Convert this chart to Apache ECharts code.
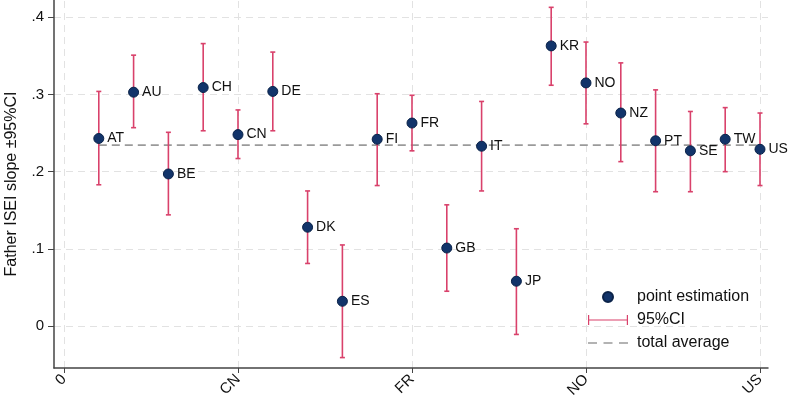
<!DOCTYPE html>
<html>
<head>
<meta charset="utf-8">
<script src="https://cdn.jsdelivr.net/npm/echarts@6/dist/echarts.min.js"></script>
<style>
  html, body { margin: 0; padding: 0; background: #fff; }
  #chart { width: 788px; height: 402px; }
</style>
</head>
<body>
<div id="chart"></div>
<script>
// countries, in order along x (1..20)
var countries = ['AT','AU','BE','CH','CN','DE','DK','ES','FI','FR','GB','IT','JP','KR','NO','NZ','PT','SE','TW','US'];
var estimate = [0.243,0.303,0.197,0.309,0.248,0.304,0.128,0.032,0.242,0.263,0.101,0.233,0.058,0.363,0.315,0.276,0.240,0.227,0.242,0.229];
var ciLow    = [0.183,0.257,0.144,0.253,0.217,0.253,0.081,-0.041,0.182,0.227,0.045,0.175,-0.011,0.312,0.262,0.213,0.174,0.174,0.200,0.182];
var ciHigh   = [0.304,0.351,0.251,0.366,0.280,0.355,0.175,0.105,0.301,0.299,0.157,0.291,0.126,0.413,0.368,0.341,0.306,0.278,0.283,0.276];
var totalAverage = 0.2344;

var xTicks = [0, 5, 10, 15, 20];
var xTickLabels = ['0', 'CN', 'FR', 'NO', 'US'];
var yTicks = [0, 0.1, 0.2, 0.3, 0.4];
var yTickLabels = ['0', '.1', '.2', '.3', '.4'];

var FONT = 'Liberation Sans';
var CI_COLOR = '#d9416b';
var PT_COLOR = '#12346a';
var AVG_COLOR = '#9a9a9a';

var pointData = [], ciData = [];
for (var i = 0; i < countries.length; i++) {
    pointData.push([i + 1, estimate[i], countries[i]]);
    ciData.push([i + 1, ciLow[i], ciHigh[i]]);
}

var gridLines = [];
xTicks.forEach(function (v) { gridLines.push({ xAxis: v }); });
yTicks.forEach(function (v) { gridLines.push({ yAxis: v }); });

var chart = echarts.init(document.getElementById('chart'));
var option = {
    animation: false,
    backgroundColor: '#fff',
    textStyle: { fontFamily: FONT },
    grid: { left: 54, right: 20, top: 0, bottom: 34, containLabel: false, outerBoundsMode: 'none' },
    xAxis: {
        type: 'value',
        min: -0.287,
        max: 20.23,
        axisLine: { onZero: false, lineStyle: { color: '#444', width: 1.5 } },
        axisTick: { customValues: xTicks, length: 5, lineStyle: { color: '#444' } },
        axisLabel: {
            customValues: xTicks,
            rotate: 45,
            fontSize: 15,
            color: '#111',
            margin: 9,
            formatter: function (v) {
                var k = xTicks.indexOf(Math.round(v));
                return k >= 0 ? xTickLabels[k] : '';
            }
        },
        splitLine: { show: false }
    },
    yAxis: {
        type: 'value',
        min: -0.0545,
        max: 0.4225,
        name: 'Father ISEI slope \u00b195%CI',
        nameLocation: 'middle',
        nameGap: 34,
        nameTextStyle: { fontSize: 16, color: '#111' },
        axisLine: { show: true, onZero: false, lineStyle: { color: '#444', width: 1.5 } },
        axisTick: { show: true, customValues: yTicks, length: 6, lineStyle: { color: '#444' } },
        axisLabel: {
            customValues: yTicks,
            fontSize: 15,
            color: '#111',
            margin: 10,
            formatter: function (v) {
                for (var k = 0; k < yTicks.length; k++) {
                    if (Math.abs(v - yTicks[k]) < 1e-6) return yTickLabels[k];
                }
                return '';
            }
        },
        splitLine: { show: false }
    },
    legend: {
        orient: 'vertical',
        left: 583,
        top: 284,
        itemWidth: 40,
        itemHeight: 10,
        itemGap: 7,
        textStyle: { fontSize: 16, color: '#111', fontFamily: FONT, padding: [0, 0, 0, 4] },
        data: [
            { name: 'point estimation', icon: 'circle' },
            { name: '95%CI', icon: 'path://M0,0H1.2V10H0Z M1.2,4.4H38.8V5.6H1.2Z M38.8,0H40V10H38.8Z' },
            { name: 'total average', icon: 'path://M0,4.3H9V5.7H0Z M15.5,4.3H24.5V5.7H15.5Z M31,4.3H40V5.7H31Z' }
        ]
    },
    series: [
        {
            name: 'total average',
            type: 'line',
            z: 1,
            symbol: 'none',
            silent: true,
            data: [[1, totalAverage], [20, totalAverage]],
            lineStyle: { color: AVG_COLOR, width: 1.8, type: [8, 5] },
            itemStyle: { color: AVG_COLOR },
            markLine: {
                silent: true,
                symbol: 'none',
                label: { show: false },
                z: 0,
                lineStyle: { color: '#e2e2e2', width: 1, type: [7, 5] },
                data: gridLines
            }
        },
        {
            name: '95%CI',
            type: 'custom',
            z: 2,
            itemStyle: { color: CI_COLOR },
            data: ciData,
            renderItem: function (params, api) {
                var x = api.value(0);
                var top = api.coord([x, api.value(2)]);
                var bot = api.coord([x, api.value(1)]);
                var cap = 2.5;
                var style = { stroke: CI_COLOR, lineWidth: 1.6 };
                return {
                    type: 'group',
                    children: [
                        { type: 'line', shape: { x1: top[0], y1: top[1], x2: bot[0], y2: bot[1] }, style: style },
                        { type: 'line', shape: { x1: top[0] - cap, y1: top[1], x2: top[0] + cap, y2: top[1] }, style: style },
                        { type: 'line', shape: { x1: bot[0] - cap, y1: bot[1], x2: bot[0] + cap, y2: bot[1] }, style: style }
                    ]
                };
            }
        },
        {
            name: 'point estimation',
            type: 'scatter',
            z: 3,
            symbolSize: 10,
            itemStyle: { color: PT_COLOR, borderColor: '#0a2248', borderWidth: 1, opacity: 1 },
            label: {
                show: true,
                position: 'right',
                distance: 3,
                fontSize: 14,
                color: '#111',
                formatter: function (p) { return p.data[2]; }
            },
            data: pointData
        }
    ]
};
chart.setOption(option);
</script>
</body>
</html>
